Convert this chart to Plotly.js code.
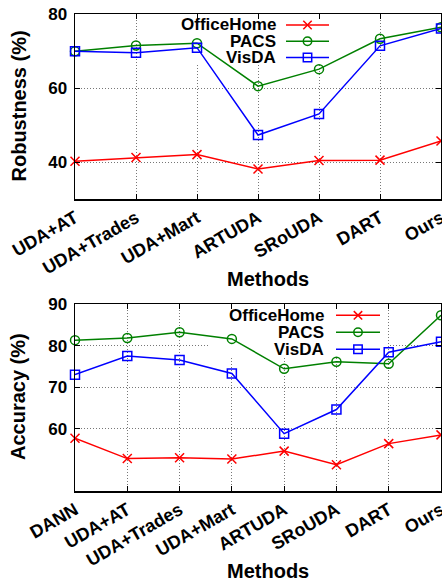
<!DOCTYPE html>
<html>
<head>
<meta charset="utf-8">
<script src="https://cdn.plot.ly/plotly-3.0.1.min.js"></script>
<style>html,body{margin:0;padding:0;background:#fff;}#chart{width:442px;height:582px;}</style>
</head>
<body>
<div id="chart"></div>
<script>
// ---- data ----
const robustMethods = ['UDA+AT','UDA+Trades','UDA+Mart','ARTUDA','SRoUDA','DART','Ours'];
const robustOfficeHome = [40.2, 41.2, 42.0, 38.1, 40.4, 40.5, 45.7];
const robustPACS       = [69.9, 71.5, 72.1, 60.5, 65.1, 73.3, 76.4];
const robustVisDA      = [69.9, 69.5, 70.9, 47.3, 53.0, 71.4, 76.1];

const accMethods = ['DANN','UDA+AT','UDA+Trades','UDA+Mart','ARTUDA','SRoUDA','DART','Ours'];
const accOfficeHome = [57.7, 52.8, 53.0, 52.7, 54.6, 51.3, 56.4, 58.5];
const accPACS       = [81.3, 81.8, 83.2, 81.6, 74.4, 76.1, 75.6, 87.3];
const accVisDA      = [73.0, 77.5, 76.5, 73.3, 58.8, 64.6, 78.4, 80.9];

const seriesNames = ['OfficeHome','PACS','VisDA'];
const robustTicks = [40, 60, 80];
const accTicks = [60, 70, 80, 90];

// ---- styles ----
const colors = {OfficeHome:'#ff0000', PACS:'#008000', VisDA:'#0000ff'};
const symbols = {OfficeHome:'x-thin-open', PACS:'circle-open', VisDA:'square-open'};
const FONT = 'Liberation Sans, Arial, Helvetica, sans-serif';

const W = 442, H = 582, ML = 75, MR = 1, MT = 14, MB = 91;
const PW = W - ML - MR, PH = H - MT - MB;
const px = v => (v - ML) / PW;
const py = v => (H - MB - v) / PH;

function mk(name, xs, ys, xa, ya) {
  return {
    type: 'scatter', mode: 'lines+markers', name: name,
    x: xs, y: ys, xaxis: xa, yaxis: ya, cliponaxis: false, showlegend: false,
    line: {color: colors[name], width: 1.5},
    marker: {symbol: symbols[name], size: 9, color: colors[name], line: {color: colors[name], width: 1.5}}
  };
}

const data = [
  mk('OfficeHome', robustMethods, robustOfficeHome, 'x', 'y'),
  mk('PACS', robustMethods, robustPACS, 'x', 'y'),
  mk('VisDA', robustMethods, robustVisDA, 'x', 'y'),
  mk('OfficeHome', accMethods, accOfficeHome, 'x2', 'y2'),
  mk('PACS', accMethods, accPACS, 'x2', 'y2'),
  mk('VisDA', accMethods, accVisDA, 'x2', 'y2')
];

function xax(n, anchor) {
  return {
    type: 'category', range: [0, n - 1], anchor: anchor,
    showgrid: true, gridcolor: '#777', griddash: '1px,2px', gridwidth: 1,
    showline: true, linecolor: '#000', linewidth: 1.5, mirror: 'ticks',
    ticks: 'inside', ticklen: 5, tickcolor: '#000', tickangle: -30,
    tickfont: {family: FONT, size: 18, color: '#000', weight: 'bold'},
    zeroline: false, fixedrange: true
  };
}
function yax(range, tv, dom, anchor) {
  return {
    range: range, domain: dom, anchor: anchor, tickvals: tv,
    showgrid: true, gridcolor: '#777', griddash: '1px,2px', gridwidth: 1,
    showline: true, linecolor: '#000', linewidth: 1.5, mirror: 'ticks',
    ticks: 'inside', ticklen: 5, tickcolor: '#000', ticklabelstandoff: 3,
    tickfont: {family: FONT, size: 17, color: '#000', weight: 'bold'},
    zeroline: false, fixedrange: true
  };
}

const topDom = [py(199), 1];
const botDom = [0, py(304)];

const shapes = [];
const annotations = [];

// legend boxes (opaque, over grid, under data) in axis coordinates
function boxShape(xa, ya, n, yr, top, bot, x0p, x1p, y0p, y1p) {
  const ix = v => (v - ML) / PW * (n - 1);
  const iy = v => yr[1] - (v - top) / (bot - top) * (yr[1] - yr[0]);
  shapes.push({type:'rect', xref:xa, yref:ya, layer:'between',
    x0:ix(x0p), x1:ix(x1p), y0:iy(y1p), y1:iy(y0p), fillcolor:'#fff', line:{width:0}});
}
boxShape('x', 'y', robustMethods.length, [30, 80], 14, 199, 160, 337, 14.8, 65);
boxShape('x2', 'y2', accMethods.length, [45, 90], 304, 491, 210, 388, 304.8, 357);

function legendEntry(name, textRight, lx0, lx1, yc) {
  const col = colors[name];
  annotations.push({xref:'paper', yref:'paper', x:px(textRight), y:py(yc), xanchor:'right', yanchor:'middle',
    text:name, showarrow:false, borderpad:0, font:{family:FONT, size:17, color:'#000', weight:'bold'}});
  shapes.push({type:'line', xref:'paper', yref:'paper', x0:px(lx0), x1:px(lx1), y0:py(yc), y1:py(yc),
    line:{color:col, width:1.5}});
  const cx = (lx0 + lx1) / 2, r = 4.2;
  if (name === 'OfficeHome') {
    shapes.push({type:'line', xref:'paper', yref:'paper', x0:px(cx-r), x1:px(cx+r), y0:py(yc-r), y1:py(yc+r), line:{color:col, width:1.5}});
    shapes.push({type:'line', xref:'paper', yref:'paper', x0:px(cx-r), x1:px(cx+r), y0:py(yc+r), y1:py(yc-r), line:{color:col, width:1.5}});
  } else if (name === 'PACS') {
    shapes.push({type:'circle', xref:'paper', yref:'paper', x0:px(cx-r), x1:px(cx+r), y0:py(yc-r), y1:py(yc+r), line:{color:col, width:1.5}, fillcolor:'rgba(0,0,0,0)'});
  } else {
    shapes.push({type:'rect', xref:'paper', yref:'paper', x0:px(cx-r), x1:px(cx+r), y0:py(yc-r), y1:py(yc+r), line:{color:col, width:1.5}, fillcolor:'rgba(0,0,0,0)'});
  }
}
const topRows = [25, 41.3, 57.5];
const botRows = [315.3, 332.3, 349.3];
seriesNames.forEach((n, i) => legendEntry(n, 277, 286, 329, topRows[i]));
seriesNames.forEach((n, i) => legendEntry(n, 325, 336, 380, botRows[i]));

// axis titles
function title(text, x, y, angle) {
  annotations.push({xref:'paper', yref:'paper', x:px(x), y:py(y), xanchor:'center', yanchor:'middle',
    text:text, textangle:angle, showarrow:false, font:{family:FONT, size:20, color:'#000', weight:'bold'}});
}
title('Robustness (%)', 18, 106.5, -90);
title('Methods', 268, 279, 0);
title('Accuracy (%)', 18, 397, -90);
title('Methods', 268, 570.5, 0);

const layout = {
  width: W, height: H,
  margin: {l: ML, r: MR, t: MT, b: MB, pad: 0},
  paper_bgcolor: '#fff', plot_bgcolor: '#fff',
  showlegend: false,
  xaxis: xax(robustMethods.length, 'y'),
  yaxis: yax([30, 80], robustTicks, topDom, 'x'),
  xaxis2: xax(accMethods.length, 'y2'),
  yaxis2: yax([45, 90], accTicks, botDom, 'x2'),
  shapes: shapes,
  annotations: annotations
};

Plotly.newPlot('chart', data, layout, {displayModeBar: false, staticPlot: true});
</script>
</body>
</html>
